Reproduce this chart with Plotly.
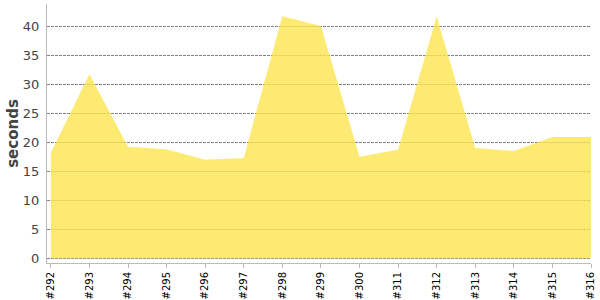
import plotly.graph_objects as go

builds = ["#292", "#293", "#294", "#295", "#296", "#297", "#298", "#299",
          "#300", "#311", "#312", "#313", "#314", "#315", "#316"]
seconds = [18.2, 31.7, 19.2, 18.8, 17.0, 17.3, 41.7, 40.0,
           17.5, 18.7, 41.7, 19.0, 18.5, 20.9, 20.9]

fig = go.Figure()
fig.add_trace(go.Scatter(
    x=list(range(len(builds))), y=seconds, mode="lines",
    fill="tozeroy", fillcolor="rgba(252,228,75,0.78)",
    line=dict(width=0, color="rgba(252,228,75,0.78)"),
    hoverinfo="skip", showlegend=False,
))

fig.update_layout(
    width=600, height=300,
    margin=dict(l=47, r=9, t=4, b=37, autoexpand=False),
    paper_bgcolor="white", plot_bgcolor="white",
    font=dict(family="DejaVu Sans", color="#444"),
    xaxis=dict(
        range=[-0.1, 14.0], automargin=False,
        tickmode="array", tickvals=list(range(len(builds))), ticktext=builds,
        tickangle=-90, tickfont=dict(size=10, color="black"),
        showgrid=False, zeroline=False,
        showline=True, linecolor="#bbb", linewidth=1,
        ticks="outside", ticklen=4, tickcolor="#bbb",
    ),
    yaxis=dict(
        range=[-0.8, 43.8], automargin=False,
        tickvals=[0, 5, 10, 15, 20, 25, 30, 35, 40],
        tickfont=dict(size=13, color="#444"),
        showgrid=True, gridcolor="#808080", griddash="3px,1px", gridwidth=1,
        zeroline=False,
        showline=True, linecolor="#bbb", linewidth=1,
        ticks="", ticklabelstandoff=4,
        title=dict(text="<b>seconds</b>", font=dict(size=15, color="#444"), standoff=0),
    ),
)

fig.write_html("out.html")
